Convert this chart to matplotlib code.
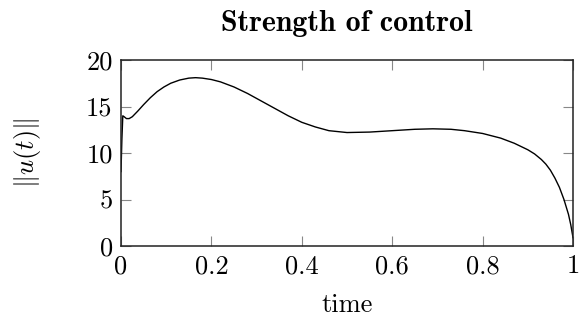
import matplotlib
matplotlib.use("Agg")
import matplotlib.pyplot as plt

plt.rcParams['font.family'] = 'serif'
plt.rcParams['font.serif'] = ['cmr10']
plt.rcParams['mathtext.fontset'] = 'cm'
plt.rcParams['axes.formatter.use_mathtext'] = True

# values
time = [0.000, 0.002, 0.004, 0.007, 0.012, 0.018, 0.025, 0.037, 0.050, 0.065,
        0.080, 0.095, 0.110, 0.130, 0.150, 0.165, 0.180, 0.200, 0.220, 0.250,
        0.280, 0.310, 0.340, 0.370, 0.400, 0.430, 0.460, 0.500, 0.550, 0.600,
        0.650, 0.690, 0.730, 0.760, 0.800, 0.840, 0.870, 0.900, 0.915, 0.930,
        0.940, 0.950, 0.960, 0.970, 0.980, 0.990, 0.995, 1.000]
norm_u = [8.0, 11.5, 14.0, 13.9, 13.7, 13.7, 13.9, 14.5, 15.2, 15.95,
          16.6, 17.1, 17.5, 17.85, 18.05, 18.1, 18.05, 17.9, 17.65, 17.1,
          16.4, 15.6, 14.8, 14.0, 13.3, 12.8, 12.4, 12.2, 12.25, 12.4,
          12.55, 12.6, 12.55, 12.4, 12.1, 11.6, 11.05, 10.35, 9.9, 9.3,
          8.8, 8.15, 7.3, 6.3, 5.0, 3.4, 2.3, 0.9]

xticks = [0, 0.2, 0.4, 0.6, 0.8, 1]
xtick_labels = ['0', '0.2', '0.4', '0.6', '0.8', '1']
yticks = [0, 5, 10, 15, 20]
ytick_labels = ['0', '5', '10', '15', '20']

fig = plt.figure(figsize=(5.79, 3.21), dpi=100)
ax = fig.add_axes([121 / 579, 75 / 321, 452 / 579, 186 / 321])

ax.plot(time, norm_u, color='black', linewidth=1.0)

ax.set_xlim(0, 1)
ax.set_ylim(0, 20)
ax.set_xticks(xticks)
ax.set_xticklabels(xtick_labels)
ax.set_yticks(yticks)
ax.set_yticklabels(ytick_labels)
ax.tick_params(direction='in', length=7, width=0.8, color='#888888',
               top=True, right=True, labelsize=19, pad=6)

for s in ax.spines.values():
    s.set_linewidth(1.1)
    s.set_color('#222222')

ax.set_title('Strength of control', fontfamily='cmb10', fontsize=21.5, pad=21)
ax.set_xlabel('time', fontsize=19, labelpad=11)
ax.set_ylabel(r'$\|u(t)\|$', fontsize=19, labelpad=31)

fig.savefig('out.png', dpi=100)
